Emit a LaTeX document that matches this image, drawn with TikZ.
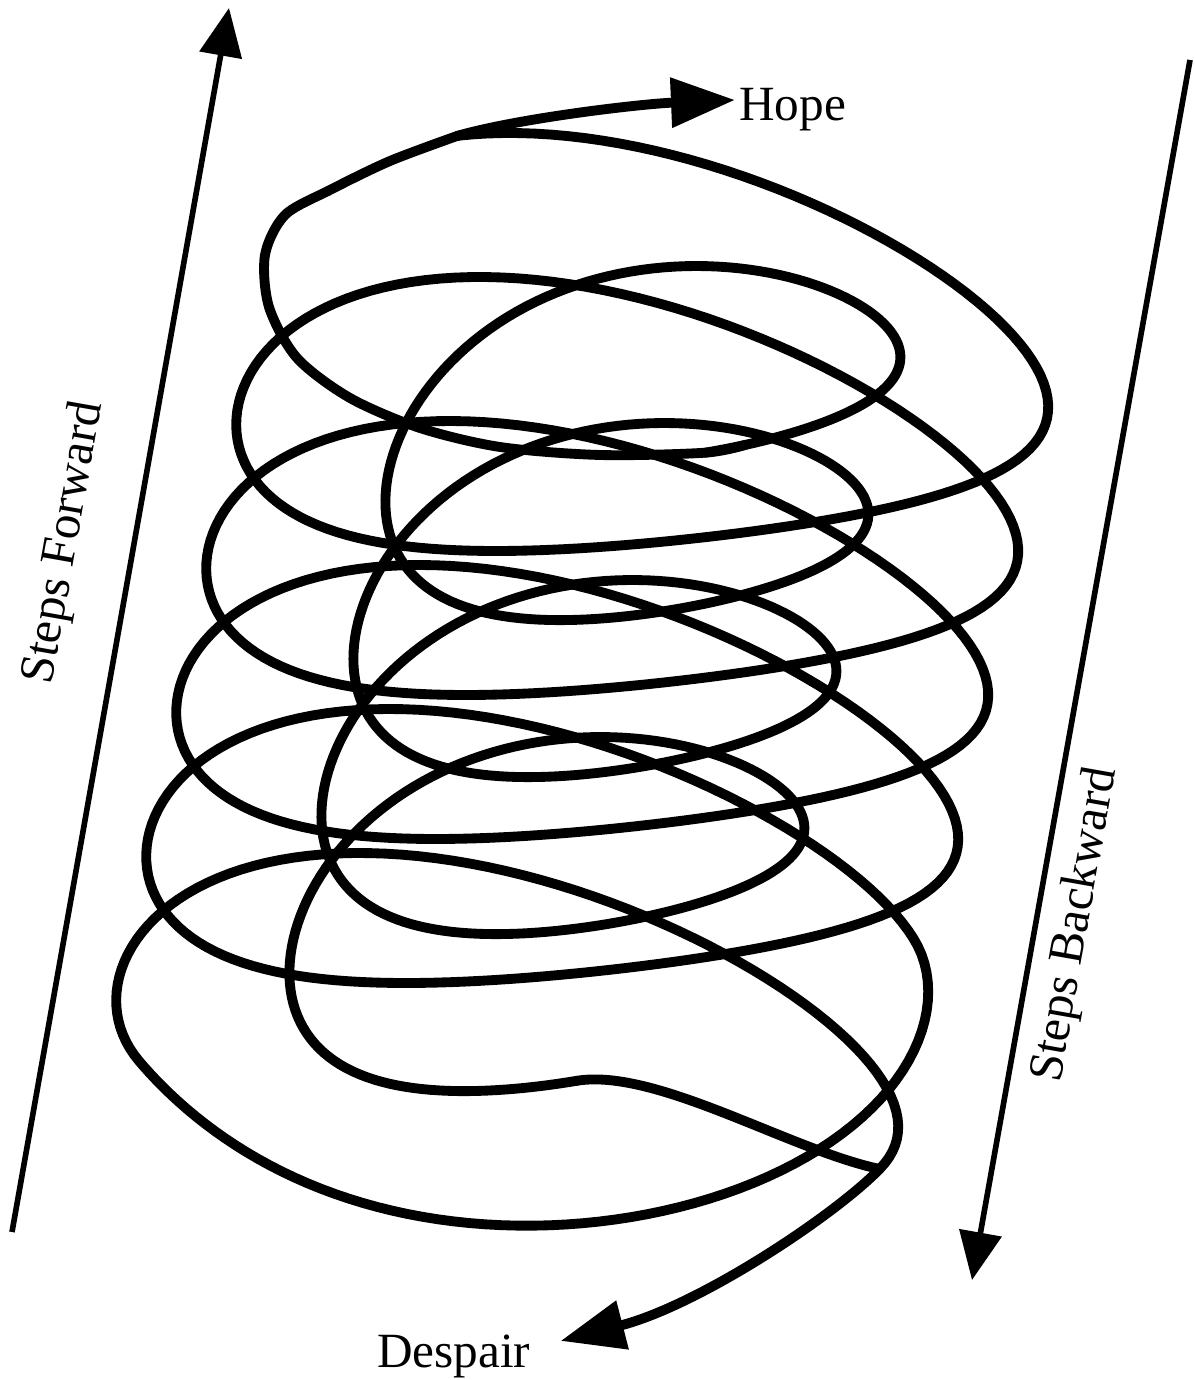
\documentclass[tikz,border=0pt]{standalone}
\usepackage{fontspec}
\setmainfont{Liberation Serif}
\usetikzlibrary{arrows.meta, calc}

\begin{document}
\begin{tikzpicture}[
    x=0.01cm, y=-0.01cm,
    coil/.style={line width=2.8pt, line join=round, line cap=round},
    side/.style={line width=1.6pt, -{Triangle[length=0.48cm, width=0.42cm]}},
    tip/.style={-{Triangle[length=0.64cm, width=0.48cm]}},
    lbl/.style={font=\fontsize{14}{16}\selectfont, inner sep=1pt},
    declare function={
        vA(\t)=165*sin(\t)-55*sin(\t)*sin(\t);
        vB(\t)=121.5*sin(\t)-28.5*sin(\t)*sin(\t);
        bw(\t)=max(0,1-((\t-1890)/90)*((\t-1890)/90));
    }
]
\useasboundingbox (0,0) rectangle (1194,1380);

% side arrows
\coordinate (fwdA) at (12,1232);
\coordinate (fwdB) at (229,8);
\coordinate (bwdA) at (1190,60);
\coordinate (bwdB) at (972,1280);
\draw[side] (fwdA) -- (fwdB);
\draw[side] (bwdA) -- (bwdB);
\node[lbl, rotate=80] (fwd) at (65,543) {Steps Forward};
\node[lbl, rotate=80] (bwd) at (1076,925) {Steps Backward};

% the coil: big turns going down, small turns coming back up
\coordinate (topJ) at (457.6,135.8);
\coordinate (botJ) at (879.6,1169);
\draw[coil] plot[domain=262:2190, samples=800, variable=\t]
  ({684.5-\t/12+380.5*cos(\t)+0.7*vA(\t)}, {245+0.4*\t-24*cos(\t)+vA(\t)+110*bw(\t)*bw(\t)});
\draw[coil] plot[domain=450:1890, samples=600, variable=\p]
  ({490.5+\p*0.08889+242*cos(\p)+0.5*vB(\p)}, {1184-\p*0.43611-65*cos(\p)+vB(\p)});
\draw[coil] (botJ) .. controls (790,1150) and (656,1068) .. (577,1080.75);
\draw[coil] plot[smooth] coordinates {(745.6,444.8) (705,452.7) (600,455) (500,447)
  (420,428) (350,398) (297,358) (269,307) (265,255) (285,215) (330,190) (390,161) (topJ)};

% ends
\node[lbl, anchor=base west] (hope) at (735,121) {Hope};
\node[lbl, anchor=base west] (despair) at (373,1367) {Despair};
\draw[coil, tip] (topJ) .. controls (520,118) and (640,104) .. (hope.170);
\draw[coil, tip] (botJ) .. controls (835,1215) and (700,1305) .. ($(despair.east)+(26,-15)$);

\end{tikzpicture}
\end{document}
